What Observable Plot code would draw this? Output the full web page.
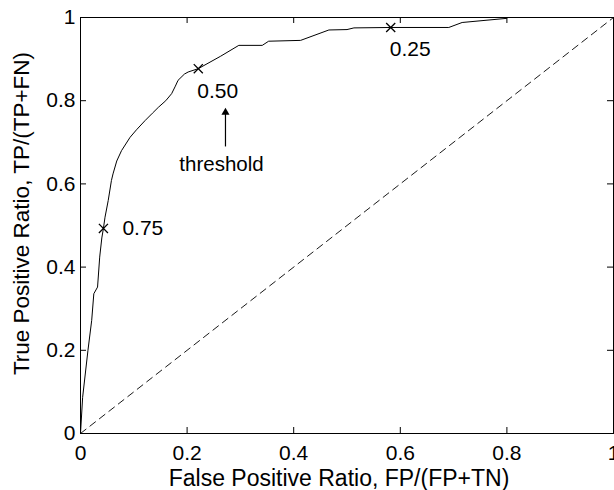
<!DOCTYPE html>
<html><head><meta charset="utf-8">
<script src="https://cdn.jsdelivr.net/npm/d3@7"></script>
<script src="https://cdn.jsdelivr.net/npm/@observablehq/plot@0.6"></script>
<style>body{margin:0;background:#fff}</style>
</head><body><div id="chart"></div>
<script>
// ROC curve readings
const fpr = [0.000,0.004,0.014,0.021,0.025,0.032,0.036,0.040,0.043,0.046,0.052,0.058,0.061,0.068,0.077,0.093,0.105,0.121,0.135,0.146,0.160,0.171,0.178,0.183,0.195,0.202,0.221,0.263,0.297,0.341,0.353,0.413,0.466,0.500,0.513,0.582,0.691,0.716,0.800,0.800,1.000];
const tpr = [0.000,0.087,0.200,0.272,0.336,0.352,0.424,0.470,0.493,0.520,0.560,0.608,0.624,0.655,0.680,0.712,0.730,0.752,0.770,0.784,0.800,0.817,0.835,0.849,0.864,0.869,0.877,0.907,0.933,0.933,0.943,0.945,0.970,0.971,0.975,0.976,0.976,0.988,0.998,1.000,1.000];
// chance diagonal
const chanceFpr = [0, 1];
const chanceTpr = [0, 1];
// threshold markers
const thresholdLabels = ["0.75", "0.50", "0.25"];
const markerFpr = [0.043, 0.221, 0.582];
const markerTpr = [0.493, 0.877, 0.976];
// ticks
const xTicks = [0, 0.2, 0.4, 0.6, 0.8, 1];
const yTicks = [0, 0.2, 0.4, 0.6, 0.8, 1];
const xTickLabels = ["0", "0.2", "0.4", "0.6", "0.8", "1"];
const yTickLabels = ["0", "0.2", "0.4", "0.6", "0.8", "1"];
// labels and annotation
const xLabel = "False Positive Ratio, FP/(FP+TN)";
const yLabel = "True Positive Ratio, TP/(TP+FN)";
const noteText = ["threshold"];
const noteFpr = [0.272];
const noteTextTpr = [0.632];
const arrowTpr = [0.690, 0.772];

const W = 614, H = 490, mL = 80, mR = 1, mT = 17, mB = 57;
const innerW = W - mL - mR, innerH = H - mT - mB;
const tickLen = 6;
const idx = a => d3.range(a.length);

const chart = Plot.plot({
  width: W, height: H,
  marginLeft: mL, marginRight: mR, marginTop: mT, marginBottom: mB,
  x: {domain: [0, 1]},
  y: {domain: [0, 1]},
  style: {fontFamily: "'Liberation Sans', Arial, Helvetica, sans-serif", fontSize: "21px", color: "black", background: "white"},
  marks: [
    Plot.frame({stroke: "black", strokeWidth: 1}),
    Plot.tickX(xTicks, {x: d => d, insetTop: innerH - tickLen, stroke: "black"}),
    Plot.tickX(xTicks, {x: d => d, insetBottom: innerH - tickLen, stroke: "black"}),
    Plot.tickY(yTicks, {y: d => d, insetRight: innerW - tickLen, stroke: "black"}),
    Plot.tickY(yTicks, {y: d => d, insetLeft: innerW - tickLen, stroke: "black"}),
    Plot.axisX({ticks: xTicks, tickSize: 0, tickPadding: 12, label: null, fontSize: 21,
      tickFormat: d => xTickLabels[xTicks.indexOf(d)]}),
    Plot.axisY({ticks: yTicks, tickSize: 0, tickPadding: 5, label: null, fontSize: 21,
      tickFormat: d => yTickLabels[yTicks.indexOf(d)]}),
    Plot.line(idx(chanceFpr), {x: i => chanceFpr[i], y: i => chanceTpr[i], stroke: "black", strokeWidth: 0.9, strokeDasharray: "7,5"}),
    Plot.line(idx(fpr), {x: i => fpr[i], y: i => tpr[i], stroke: "black", strokeWidth: 1}),
    Plot.dot(idx(markerFpr), {x: i => markerFpr[i], y: i => markerTpr[i], symbol: "times", r: 4.2, stroke: "black", strokeWidth: 1.3}),
    Plot.text([0], {x: markerFpr[0], y: markerTpr[0], text: () => thresholdLabels[0], dx: 19, textAnchor: "start", lineAnchor: "middle", fontSize: 21}),
    Plot.text([1, 2], {x: i => markerFpr[i], y: i => markerTpr[i], text: i => thresholdLabels[i], dx: -1, dy: 29, textAnchor: "start", lineAnchor: "bottom", fontSize: 21}),
    Plot.text(idx(noteText), {x: i => noteFpr[i], y: i => noteTextTpr[i], text: i => noteText[i], dx: -4, lineAnchor: "bottom", textAnchor: "middle", fontSize: 20.5}),
    Plot.link([0], {x1: noteFpr[0], x2: noteFpr[0], y1: arrowTpr[0], y2: arrowTpr[1], stroke: "black", strokeWidth: 1.2}),
    Plot.dot([0], {x: noteFpr[0], y: arrowTpr[1], symbol: "triangle", r: 3, fill: "black", stroke: "none"}),
    Plot.text([xLabel], {frameAnchor: "bottom", text: d => d, dy: 52, dx: -8, lineAnchor: "bottom", textAnchor: "middle", fontSize: 23}),
    Plot.text([yLabel], {frameAnchor: "left", text: d => d, rotate: -90, dx: -52, dy: -12, lineAnchor: "bottom", textAnchor: "middle", fontSize: 22.5})
  ]
});
document.getElementById("chart").appendChild(chart);
</script>
</body></html>
